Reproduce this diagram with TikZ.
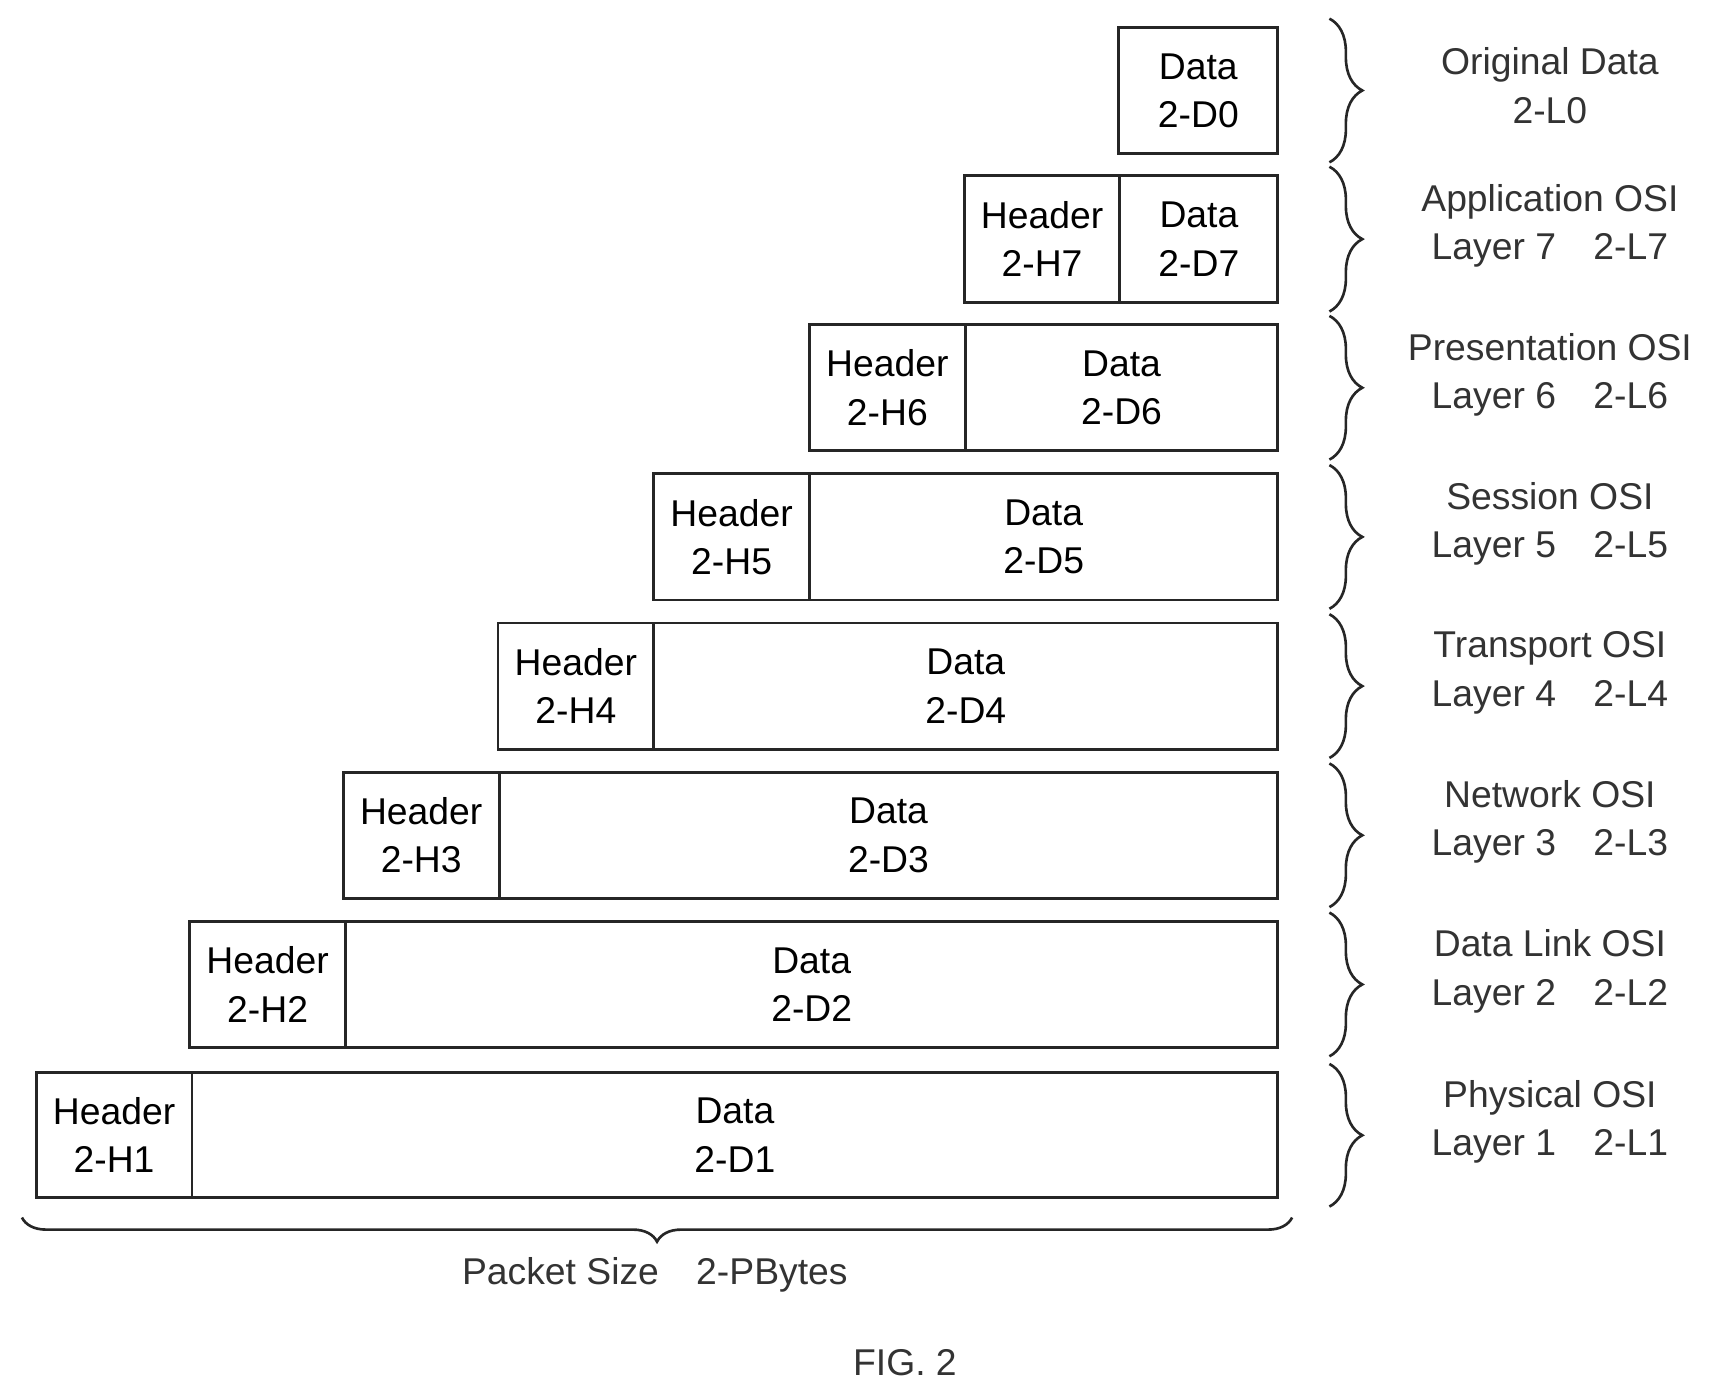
\documentclass[tikz,border=0pt]{standalone}
\usepackage{fontspec}
\setmainfont{Liberation Sans}
\usetikzlibrary{decorations.pathreplacing}
\begin{document}
\begin{tikzpicture}[x=1pt,y=-1pt,
  box/.style={draw=black!85,line width=2.6pt,inner sep=0pt,align=center,font=\fontsize{34}{44}\selectfont},
  lbl/.style={align=center,font=\fontsize{34}{44}\selectfont,text=black!80},
  br/.style={draw=black!85,line width=2.4pt,decorate,decoration={brace,amplitude=30pt,aspect=0.5}}]
\useasboundingbox (0,0) rectangle (1569,1274);
\def\R{1165}
\foreach \n/\t/\b/\hl/\lab in {7/160/276/879/{Application OSI\\Layer 7\quad 2-L7},
  6/296/411/738/{Presentation OSI\\Layer 6\quad 2-L6},
  5/432/547/596/{Session OSI\\Layer 5\quad 2-L5},
  4/568/683/454/{Transport OSI\\Layer 4\quad 2-L4},
  3/704/819/313/{Network OSI\\Layer 3\quad 2-L3},
  2/840/955/173/{Data Link OSI\\Layer 2\quad 2-L2},
  1/978/1092/33/{Physical OSI\\Layer 1\quad 2-L1}}{
  \node[box,minimum width=142,minimum height={\b-\t}] (h\n) at ({\hl+71},{(\t+\b)/2}) {Header\\2-H\n};
  \node[box,minimum width={\R-\hl-142},minimum height={\b-\t}] (d\n) at ({(\R+\hl+142)/2},{(\t+\b)/2}) {Data\\2-D\n};
  \coordinate (bt\n) at (1212,{\t-8});
  \coordinate (bb\n) at (1212,{\b+8});
  \draw[br] (bt\n) -- (bb\n);
  \node[lbl] (l\n) at (1413,{(\t+\b)/2-12}) {\lab};
}
\node[box,minimum width=145,minimum height=115] (d0) at (1092.5,82.5) {Data\\2-D0};
\coordinate (bt0) at (1212,17); \coordinate (bb0) at (1212,148);
\draw[br] (bt0) -- (bb0);
\node[lbl] (l0) at (1413,78) {Original Data\\2-L0};
\coordinate (pl) at (20,1110); \coordinate (pr) at (1178,1110);
\draw[br,decoration={brace,amplitude=22pt}] (pr) -- (pl);
\node[lbl] (ps) at (597,1162) {Packet Size\quad 2-PBytes};
\node[lbl,font=\fontsize{34}{40}\selectfont\rmfamily] (fig) at (825,1242) {FIG. 2};
\end{tikzpicture}
\end{document}
